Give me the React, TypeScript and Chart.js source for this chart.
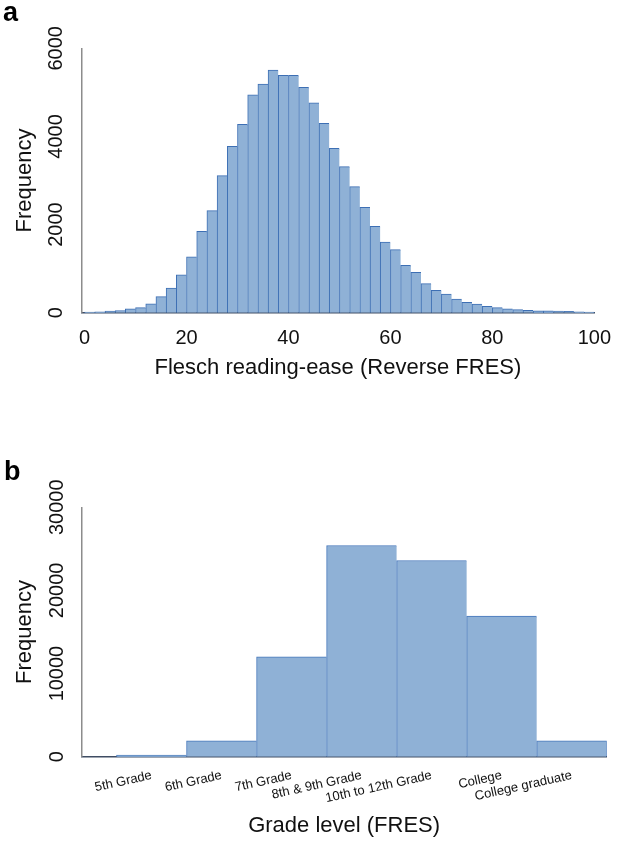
import React, { useEffect, useRef } from "react";
import { Chart, registerables } from "chart.js";

Chart.register(...registerables);

// ---- Panel a: reading-ease histogram (2-point bins, 0–100) ----
const BIN_WIDTH = 2;
const binStarts = [
  0, 2, 4, 6, 8, 10, 12, 14, 16, 18,
  20, 22, 24, 26, 28, 30, 32, 34, 36, 38,
  40, 42, 44, 46, 48, 50, 52, 54, 56, 58,
  60, 62, 64, 66, 68, 70, 72, 74, 76, 78,
  80, 82, 84, 86, 88, 90, 92, 94, 96, 98,
];
const binCounts = [
  15, 20, 35, 50, 85, 115, 200, 365, 560, 860,
  1270, 1845, 2315, 3110, 3775, 4275, 4945, 5190, 5505, 5385,
  5385, 5115, 4765, 4300, 3730, 3315, 2860, 2390, 1960, 1605,
  1430, 1075, 915, 660, 510, 425, 310, 235, 195, 145,
  115, 90, 70, 55, 45, 40, 35, 30, 20, 15,
];
const easeTicks = [0, 20, 40, 60, 80, 100];
const freqTicksA = [0, 2000, 4000, 6000];

// ---- Panel b: counts per grade level ----
const gradeLevels = [
  "5th Grade",
  "6th Grade",
  "7th Grade",
  "8th & 9th Grade",
  "10th to 12th Grade",
  "College",
  "College graduate",
];
const gradeCounts = [200, 1900, 12000, 25400, 23600, 16900, 1900];
const freqTicksB = [0, 10000, 20000, 30000];

const FONT = '"Liberation Sans", Arial, Helvetica, sans-serif';
const TEXT = "#111111";
const FILL = "#8fb1d6";
const EDGE_A = "#3d6fb4";
const EDGE_B = "#4577bb";
const Y_AXIS = "#8c8c8c";
const X_AXIS = "#3f4d63";

const tickFont = { family: FONT, size: 20 };
const titleFont = { family: FONT, size: 22 };

// plain numbers, no thousands separators
const plain = (v: any) => String(v);

function edgeWidths(last: number) {
  return (ctx: any) => ({
    top: 1,
    left: 1,
    right: ctx.dataIndex === last ? 1 : 0,
    bottom: 0,
  });
}

function histogramConfig(): any {
  return {
    type: "bar",
    data: {
      datasets: [
        {
          data: binCounts.map((c, i) => ({ x: binStarts[i] + BIN_WIDTH / 2, y: c })),
          backgroundColor: FILL,
          borderColor: EDGE_A,
          borderWidth: edgeWidths(binCounts.length - 1),
          barPercentage: 1,
          categoryPercentage: 1,
        },
      ],
    },
    options: {
      animation: false,
      responsive: false,
      layout: { padding: { left: 0, right: 19, top: 48.3, bottom: 0 } },
      plugins: { legend: { display: false }, tooltip: { enabled: false } },
      scales: {
        x: {
          type: "linear",
          offset: false,
          min: -0.6,
          max: 100,
          grid: { display: false, drawTicks: false },
          border: { display: true, color: X_AXIS, width: 1.5 },
          afterBuildTicks: (axis: any) => {
            axis.ticks = easeTicks.map((v) => ({ value: v }));
          },
          afterFit: (axis: any) => {
            axis.height = 87.3;
          },
          ticks: {
            font: tickFont,
            color: TEXT,
            padding: 14,
            minRotation: 0,
            maxRotation: 0,
            autoSkip: false,
            callback: plain,
          },
          title: {
            display: true,
            text: "Flesch reading-ease (Reverse FRES)",
            font: titleFont,
            color: TEXT,
            padding: { top: 0, bottom: 19 },
          },
        },
        y: {
          min: 0,
          max: 6000,
          grid: { display: false, drawTicks: false },
          border: { display: true, color: Y_AXIS, width: 1.5 },
          afterBuildTicks: (axis: any) => {
            axis.ticks = freqTicksA.map((v) => ({ value: v }));
          },
          afterFit: (axis: any) => {
            axis.width = 81.5;
          },
          ticks: {
            font: tickFont,
            color: TEXT,
            padding: 2.5,
            crossAlign: "center",
            minRotation: 90,
            maxRotation: 90,
            callback: plain,
          },
          title: {
            display: true,
            text: "Frequency",
            font: titleFont,
            color: TEXT,
            padding: { top: 12, bottom: 0 },
          },
        },
      },
    },
  };
}

function gradeConfig(): any {
  return {
    type: "bar",
    data: {
      datasets: [
        {
          data: gradeCounts.map((c, i) => ({ x: i + 0.5, y: c })),
          backgroundColor: FILL,
          borderColor: EDGE_B,
          borderWidth: edgeWidths(gradeCounts.length - 1),
          barPercentage: 1,
          categoryPercentage: 1,
        },
      ],
    },
    options: {
      animation: false,
      responsive: false,
      layout: { padding: { left: 0, right: 18.3, top: 87.3, bottom: 0 } },
      plugins: { legend: { display: false }, tooltip: { enabled: false } },
      scales: {
        x: {
          type: "linear",
          offset: false,
          min: -0.5,
          max: gradeLevels.length,
          grid: { display: false, drawTicks: false },
          border: { display: true, color: X_AXIS, width: 1.5 },
          afterBuildTicks: (axis: any) => {
            axis.ticks = gradeLevels.map((_, i) => ({ value: i + 0.5 }));
          },
          afterFit: (axis: any) => {
            axis.height = 84.3;
          },
          ticks: {
            font: { family: FONT, size: 13 },
            color: TEXT,
            padding: 11,
            minRotation: 12.5,
            maxRotation: 12.5,
            autoSkip: false,
            callback: (_v: any, i: number) => gradeLevels[i],
          },
          title: {
            display: true,
            text: "Grade level (FRES)",
            font: titleFont,
            color: TEXT,
            padding: { top: 0, bottom: 2 },
          },
        },
        y: {
          min: 0,
          max: 30000,
          grid: { display: false, drawTicks: false },
          border: { display: true, color: Y_AXIS, width: 1.5 },
          afterBuildTicks: (axis: any) => {
            axis.ticks = freqTicksB.map((v) => ({ value: v }));
          },
          afterFit: (axis: any) => {
            axis.width = 81.5;
          },
          ticks: {
            font: tickFont,
            color: TEXT,
            padding: -3.3,
            crossAlign: "center",
            minRotation: 90,
            maxRotation: 90,
            callback: plain,
          },
          title: {
            display: true,
            text: "Frequency",
            font: titleFont,
            color: TEXT,
            padding: { top: 12, bottom: 0 },
          },
        },
      },
    },
  };
}

function ChartCanvas(props: { make: () => any; top: number; height: number }) {
  const ref = useRef<HTMLCanvasElement | null>(null);
  useEffect(() => {
    if (!ref.current) return;
    const chart = new Chart(ref.current, props.make());
    return () => chart.destroy();
  }, []);
  return (
    <canvas
      ref={ref}
      width={625}
      height={props.height}
      style={{ position: "absolute", left: 0, top: props.top, width: 625, height: props.height }}
    />
  );
}

const panelLetter: React.CSSProperties = {
  position: "absolute",
  fontFamily: FONT,
  fontWeight: "bold",
  fontSize: 27,
  lineHeight: "27px",
  color: "#000",
};

export default function App() {
  return (
    <div
      style={{
        position: "absolute",
        left: 0,
        top: 0,
        width: 625,
        height: 841,
        background: "#ffffff",
        overflow: "hidden",
      }}
    >
      <ChartCanvas make={histogramConfig} top={0} height={400} />
      <ChartCanvas make={gradeConfig} top={420} height={421} />
      <div style={{ ...panelLetter, left: 3, top: -1 }}>a</div>
      <div style={{ ...panelLetter, left: 4, top: 458 }}>b</div>
    </div>
  );
}
